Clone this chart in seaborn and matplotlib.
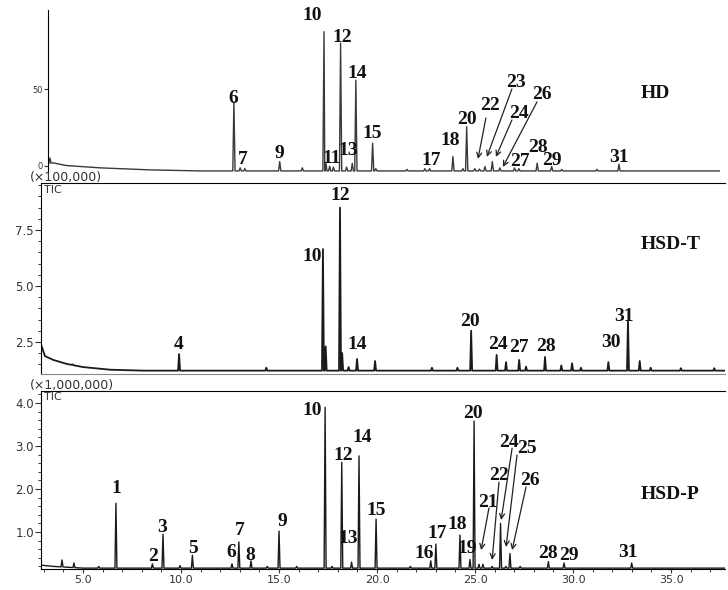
import numpy as np
import pandas as pd
import matplotlib
matplotlib.use("Agg")
import matplotlib.pyplot as plt
from matplotlib.ticker import MultipleLocator
import seaborn as sns

# -------------------
# Data
# -------------------
# HD (x100,000)
hd_base_t = [2.70, 2.97, 3.70, 5.50, 8.10, 10.80, 38.40]
hd_base_y = [1.0, 1.8, 0.0, -1.5, -2.8, -3.5, -3.5]
hd_peak_t = [2.81, 12.57, 12.90, 13.15, 15.00, 16.20, 17.35, 17.45, 17.65, 17.85,
             18.23, 18.55, 18.85, 19.04, 19.93, 20.10, 21.75, 22.70, 22.95, 24.19,
             24.72, 24.92, 25.35, 25.60, 25.89, 26.28, 26.68, 27.46, 27.69, 28.66,
             29.43, 29.96, 31.83, 33.00]
hd_peak_h = [5.0, 41.7, -1.5, -2.0, 2.6, -1.5, 87.7, 1.5, -0.5, -1.0,
             80.1, -1.0, 1.5, 56.0, 14.7, -2.0, -2.5, -2.0, -2.0, 5.9,
             -2.0, 25.5, -2.0, -2.3, -0.6, 2.6, -1.5, -1.5, -2.0, 1.6,
             -0.6, -2.5, -2.5, 0.9]
hd_labels = ["6", "7", "9", "10", "11", "12", "13", "14", "15", "17", "18", "20",
             "22", "23", "24", "26", "27", "28", "29", "31"]
hd_label_x = [12.52, 13.05, 14.96, 16.71, 17.77, 18.30, 18.62, 19.10, 19.89, 23.02,
              24.03, 24.93, 26.15, 27.53, 27.69, 28.91, 27.73, 28.70, 29.45, 33.00]
hd_label_y = [41.0, 1.1, 5.0, 95.4, 1.8, 81.0, 7.0, 57.4, 18.1, 0.5,
              13.5, 27.3, 36.4, 51.5, 31.2, 43.6, 0.0, 9.0, 0.5, 2.4]
hd_arrow_from = [(25.94, 31.2), (27.32, 50.2), (27.32, 29.9), (28.65, 41.7)]
hd_arrow_to = [(25.52, 4.4), (25.99, 5.7), (26.47, 5.7), (26.84, -0.9)]

# HSD-T (x100,000)
hsdt_base_t = [2.85, 3.06, 3.48, 4.17, 5.00, 6.40, 8.10, 37.75]
hsdt_base_y = [2.41, 1.87, 1.70, 1.52, 1.38, 1.26, 1.22, 1.22]
hsdt_peak_t = [4.46, 9.90, 14.35, 17.24, 17.38, 18.11, 18.22, 18.55, 18.98, 19.90,
               22.80, 24.10, 24.80, 26.10, 26.58, 27.25, 27.60, 28.57, 29.40, 29.95,
               30.40, 31.80, 32.80, 33.40, 33.96, 35.50, 37.20]
hsdt_peak_h = [1.50, 1.96, 1.35, 6.65, 2.30, 8.50, 2.00, 1.38, 1.74, 1.65,
               1.35, 1.35, 3.00, 1.92, 1.60, 1.70, 1.40, 1.83, 1.45, 1.55,
               1.35, 1.60, 3.44, 1.65, 1.35, 1.33, 1.33]
hsdt_labels = ["4", "10", "12", "14", "20", "24", "27", "28", "30", "31"]
hsdt_label_x = [9.90, 16.68, 18.11, 18.98, 24.74, 26.17, 27.24, 28.62, 31.94, 32.60]
hsdt_label_y = [2.19, 6.12, 8.84, 2.19, 3.21, 2.19, 2.05, 2.10, 2.28, 3.44]

# HSD-P (x1,000,000)
hsdp_base_t = [2.85, 3.50, 5.00, 37.75]
hsdp_base_y = [0.23, 0.20, 0.16, 0.16]
hsdp_peak_t = [3.93, 4.54, 5.80, 6.68, 8.54, 9.08, 9.95, 10.58, 12.60, 12.95,
               13.57, 14.40, 15.00, 15.90, 17.35, 17.70, 18.20, 18.70, 19.08, 19.95,
               21.70, 22.74, 23.00, 24.23, 24.74, 24.95, 25.20, 25.40, 25.87, 26.30,
               26.57, 26.78, 27.30, 28.74, 29.54, 32.99]
hsdp_peak_h = [0.35, 0.28, 0.20, 1.67, 0.26, 0.95, 0.22, 0.46, 0.26, 0.77,
               0.33, 0.20, 1.02, 0.20, 3.90, 0.20, 2.62, 0.30, 2.77, 1.30,
               0.20, 0.33, 0.72, 0.93, 0.36, 3.58, 0.25, 0.25, 0.20, 1.20,
               0.20, 0.50, 0.20, 0.31, 0.28, 0.28]
hsdp_labels = ["1", "2", "3", "5", "6", "7", "8", "9", "10", "12", "13", "14", "15",
               "16", "17", "18", "19", "20", "21", "22", "24", "25", "26", "28", "29", "31"]
hsdp_label_x = [6.68, 8.57, 9.03, 10.61, 12.55, 13.01, 13.52, 15.15, 16.68, 18.27,
                18.52, 19.23, 19.95, 22.40, 23.06, 24.08, 24.59, 24.90, 25.66, 26.22,
                26.73, 27.65, 27.81, 28.72, 29.80, 32.81]
hsdp_label_y = [1.91, 0.33, 1.00, 0.51, 0.42, 0.93, 0.35, 1.14, 3.72, 2.67,
                0.74, 3.09, 1.40, 0.40, 0.86, 1.07, 0.51, 3.65, 1.58, 2.21,
                2.98, 2.84, 2.09, 0.40, 0.35, 0.42]
hsdp_arrow_from = [(25.71, 1.56), (26.22, 2.16), (26.89, 2.95), (27.14, 2.79), (27.60, 2.05)]
hsdp_arrow_to = [(25.31, 0.58), (25.87, 0.35), (26.33, 1.28), (26.58, 0.65), (26.89, 0.58)]

x_ticks = [5, 10, 15, 20, 25, 30, 35]


def build_trace(base_t, base_y, peak_t, peak_h, w):
    # baseline points + a narrow triangle for every peak
    t = list(base_t)
    y = list(base_y)
    for pt, ph in zip(peak_t, peak_h):
        for dt in (-w, w):
            t.append(pt + dt)
            y.append(np.interp(pt + dt, base_t, base_y))
        t.append(pt)
        y.append(ph)
    return pd.DataFrame({"time": t, "signal": y}).sort_values("time", kind="stable")


# -------------------
# Style
# -------------------
sns.set_theme(style="ticks")
plt.rcParams["font.family"] = ["DejaVu Sans"]
label_font = dict(family=["Liberation Serif", "DejaVu Serif"], weight="bold", size=14)
tick_col = "#333333"

fig = plt.figure(figsize=(7.28, 5.90), dpi=100)
ax_hd = fig.add_axes([48 / 728, 1 - 172 / 590, 672 / 728, 162 / 590])
ax_t = fig.add_axes([41 / 728, 1 - 374 / 590, 684 / 728, 191 / 590])
ax_p = fig.add_axes([41 / 728, 1 - 569 / 590, 684 / 728, 178 / 590])

panels = [
    (ax_hd, build_trace(hd_base_t, hd_base_y, hd_peak_t, hd_peak_h, 0.06), "#3a3a3a", 1.0),
    (ax_t, build_trace(hsdt_base_t, hsdt_base_y, hsdt_peak_t, hsdt_peak_h, 0.05), "#1a1a1a", 1.3),
    (ax_p, build_trace(hsdp_base_t, hsdp_base_y, hsdp_peak_t, hsdp_peak_h, 0.05), "#1a1a1a", 1.0),
]
for ax, df, col, lw in panels:
    sns.lineplot(data=df, x="time", y="signal", ax=ax, color=col, lw=lw,
                 estimator=None, sort=False)
    ax.set_xlabel("")
    ax.set_ylabel("")
    ax.set_facecolor("white")
    for s in ax.spines.values():
        s.set_linewidth(0.8)
        s.set_color("black")
    ax.spines["right"].set_visible(False)
    ax.tick_params(axis="both", which="major", direction="out", length=4, width=0.8,
                   color=tick_col, labelcolor=tick_col, labelsize=8.5, pad=1)
    ax.tick_params(axis="both", which="minor", direction="out", length=2.5, width=0.7,
                   color=tick_col)

# -------------------
# HD panel
# -------------------
ax_hd.set_xlim(2.706, 38.36)
ax_hd.set_ylim(-4.2, 101.9)
ax_hd.spines["top"].set_visible(False)
ax_hd.spines["bottom"].set_visible(False)
ax_hd.set_xticks([])
ax_hd.set_yticks([0, 50])
ax_hd.set_yticklabels(["0", "50"])
ax_hd.tick_params(axis="y", labelsize=6, length=3)

# -------------------
# HSD-T panel
# -------------------
ax_t.set_xlim(2.857, 37.75)
ax_t.set_ylim(1.07, 9.6)
ax_t.spines["bottom"].set_color("#888888")
ax_t.set_xticks([])
ax_t.set_yticks([2.5, 5.0, 7.5])
ax_t.set_yticklabels(["2.5", "5.0", "7.5"])
ax_t.yaxis.set_minor_locator(MultipleLocator(0.5))

# -------------------
# HSD-P panel
# -------------------
ax_p.set_xlim(2.857, 37.75)
ax_p.set_ylim(0.14, 4.28)
ax_p.set_yticks([1, 2, 3, 4])
ax_p.set_yticklabels(["1.0", "2.0", "3.0", "4.0"])
ax_p.yaxis.set_minor_locator(MultipleLocator(0.2))
ax_p.set_xticks(x_ticks)
ax_p.set_xticklabels([f"{v:.1f}" for v in x_ticks])
ax_p.xaxis.set_minor_locator(MultipleLocator(1.0))
ax_p.tick_params(axis="x", which="major", length=3, labelsize=8, pad=1)
ax_p.tick_params(axis="x", which="minor", length=2)

# -------------------
# Peak numbers, arrows, sample names
# -------------------
for ax, labels, lx, ly in [(ax_hd, hd_labels, hd_label_x, hd_label_y),
                           (ax_t, hsdt_labels, hsdt_label_x, hsdt_label_y),
                           (ax_p, hsdp_labels, hsdp_label_x, hsdp_label_y)]:
    for txt, x, y in zip(labels, lx, ly):
        ax.text(x, y, txt, ha="center", va="baseline", color="#111111", **label_font)

for ax, starts, ends in [(ax_hd, hd_arrow_from, hd_arrow_to),
                         (ax_p, hsdp_arrow_from, hsdp_arrow_to)]:
    for a, b in zip(starts, ends):
        ax.annotate("", xy=b, xytext=a,
                    arrowprops=dict(arrowstyle="->", color="#222222", lw=0.9,
                                    shrinkA=0, shrinkB=0, mutation_scale=9))

ax_hd.text(34.16, 44.3, "HD", ha="left", va="baseline", color="#111111", **label_font)
ax_t.text(33.47, 6.65, "HSD-T", ha="left", va="baseline", color="#111111", **label_font)
ax_p.text(33.47, 1.77, "HSD-P", ha="left", va="baseline", color="#111111", **label_font)

fig.text(30 / 728, 1 - 178 / 590, "(×100,000)", ha="left", va="center", fontsize=9, color=tick_col)
fig.text(44 / 728, 1 - 190 / 590, "TIC", ha="left", va="center", fontsize=8, color=tick_col)
fig.text(30 / 728, 1 - 386 / 590, "(×1,000,000)", ha="left", va="center", fontsize=9, color=tick_col)
fig.text(44 / 728, 1 - 397 / 590, "TIC", ha="left", va="center", fontsize=8, color=tick_col)

fig.savefig("out.png", dpi=100, facecolor="white")
